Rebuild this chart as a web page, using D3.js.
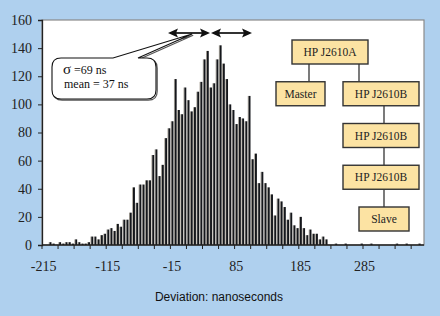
<!DOCTYPE html>
<html>
<head>
<meta charset="utf-8">
<script src="https://cdn.jsdelivr.net/npm/d3@7"></script>
<style>
  html, body { margin: 0; padding: 0; background: #afd0ee; }
  svg { display: block; }
</style>
</head>
<body>
<div id="chart"></div>
<script>
// deviation bins (ns), 5 ns wide, starting at -215
const binStart = -215;
const binStep = 5;
const counts = [
  0, 0, 2, 1, 0, 2, 1, 2, 2, 1,
  4, 2, 1, 1, 2, 6, 6, 4, 7, 8,
  11, 12, 10, 15, 13, 18, 18, 23, 41, 30,
  43, 43, 46, 46, 64, 68, 49, 57, 76, 83,
  88, 118, 96, 93, 112, 103, 95, 98, 109, 116,
  132, 138, 112, 115, 132, 142, 129, 118, 100, 96,
  86, 91, 90, 88, 106, 61, 65, 44, 52, 44,
  41, 36, 21, 33, 31, 27, 18, 23, 14, 12,
  20, 12, 7, 11, 8, 8, 4, 6, 4, 0,
  0, 1, 0, 0, 1, 0, 0, 0, 0, 1,
  0, 0, 1, 0, 0, 0, 0, 0, 0, 0,
  1, 0, 0, 1, 0, 0, 0, 1, 0
];
const categories = counts.map((_, i) => binStart + i * binStep);
const xTickLabels = ['-215', '-115', '-15', '85', '185', '285'];
const yTicks = [0, 20, 40, 60, 80, 100, 120, 140, 160];
const statLines = ['=69 ns', 'mean = 37 ns'];

// org chart of the test setup
const orgNodes = [
  { id: 'a', label: 'HP J2610A', col: 1, row: 0 },
  { id: 'm', label: 'Master', col: 0, row: 1 },
  { id: 'b1', label: 'HP J2610B', col: 2, row: 1 },
  { id: 'b2', label: 'HP J2610B', col: 2, row: 2 },
  { id: 'b3', label: 'HP J2610B', col: 2, row: 3 },
  { id: 's', label: 'Slave', col: 3, row: 4 }
];
const orgLinks = [['a', 'm'], ['a', 'b1'], ['b1', 'b2'], ['b2', 'b3'], ['b3', 's']];

const W = 440, H = 316;
const plot = { left: 42, right: 424, top: 20, bottom: 245 };

const svg = d3.select('#chart').append('svg')
  .attr('width', W).attr('height', H);

svg.append('rect').attr('width', W).attr('height', H).attr('fill', '#afd0ee');

// plot area
svg.append('rect')
  .attr('x', plot.left).attr('y', plot.top)
  .attr('width', plot.right - plot.left).attr('height', plot.bottom - plot.top)
  .attr('fill', '#fff')
  .attr('stroke', '#8a8a8a').attr('stroke-width', 1.2);

const x = d3.scaleBand().domain(categories).range([plot.left, plot.right]).padding(0);
const y = d3.scaleLinear().domain([0, 160]).range([plot.bottom, plot.top]);
const bw = x.bandwidth();
const filled = categories.filter((c, i) => counts[i] > 0);
const cnt = d => counts[categories.indexOf(d)];

// bars: light sliver + dark body
const bars = svg.append('g');
bars.selectAll('rect.lite')
  .data(filled)
  .enter().append('rect')
  .attr('class', 'lite')
  .attr('x', d => x(d) + bw * 0.1)
  .attr('y', d => y(cnt(d)))
  .attr('width', bw * 0.25)
  .attr('height', d => plot.bottom - y(cnt(d)))
  .attr('fill', '#a49e92');
bars.selectAll('rect.dark')
  .data(filled)
  .enter().append('rect')
  .attr('class', 'dark')
  .attr('x', d => x(d) + bw * 0.35)
  .attr('y', d => y(cnt(d)))
  .attr('width', bw * 0.6)
  .attr('height', d => plot.bottom - y(cnt(d)))
  .attr('fill', '#15171b');

// y axis
const yAxis = svg.append('g')
  .attr('transform', `translate(${plot.left},0)`)
  .call(d3.axisLeft(y).tickValues(yTicks).tickSize(4).tickPadding(6));
yAxis.select('.domain').attr('stroke', '#222').attr('stroke-width', 1.3);
yAxis.selectAll('.tick line').attr('stroke', '#222');
yAxis.selectAll('.tick text')
  .attr('font-family', '"Liberation Serif", "DejaVu Serif", serif')
  .attr('font-size', 14).attr('fill', '#222');

// x axis: ticks every 5 bins on band boundaries, labels every 20 bins
const xg = svg.append('g');
xg.append('line')
  .attr('x1', plot.left).attr('x2', plot.right)
  .attr('y1', plot.bottom).attr('y2', plot.bottom)
  .attr('stroke', '#222').attr('stroke-width', 1.3);
xg.selectAll('line.tick')
  .data(categories.filter((c, i) => i % 5 === 0))
  .enter().append('line')
  .attr('x1', d => x(d)).attr('x2', d => x(d))
  .attr('y1', plot.bottom).attr('y2', plot.bottom + 4)
  .attr('stroke', '#222');
xg.selectAll('text')
  .data(xTickLabels)
  .enter().append('text')
  .attr('x', d => x(+d) + bw / 2)
  .attr('y', 271)
  .attr('text-anchor', 'middle')
  .attr('font-family', '"Liberation Serif", "DejaVu Serif", serif')
  .attr('font-size', 14).attr('fill', '#222')
  .text(d => d);

svg.append('text')
  .attr('x', 219).attr('y', 301)
  .attr('text-anchor', 'middle')
  .attr('font-family', '"Liberation Sans", Arial, sans-serif')
  .attr('font-size', 12).attr('fill', '#111')
  .text('Deviation: nanoseconds');

// double arrows marking ±sigma around the peak
const arrowY = 33;
const arrows = [[168, 210], [211, 252]];
const ag = svg.append('g');
arrows.forEach(([a, b]) => {
  ag.append('line')
    .attr('x1', a + 6).attr('x2', b - 6).attr('y1', arrowY).attr('y2', arrowY)
    .attr('stroke', '#333').attr('stroke-width', 2);
  ag.append('path')
    .attr('d', `M${a},${arrowY} L${a + 10},${arrowY - 4.5} L${a + 8},${arrowY} L${a + 10},${arrowY + 4.5} Z`)
    .attr('fill', '#111');
  ag.append('path')
    .attr('d', `M${b},${arrowY} L${b - 10},${arrowY - 4.5} L${b - 8},${arrowY} L${b - 10},${arrowY + 4.5} Z`)
    .attr('fill', '#111');
});

// callout box
const cb = { x: 52, y: 58, w: 104, h: 41, r: 9 };
const callout = d3.path();
callout.moveTo(cb.x + cb.r, cb.y);
callout.lineTo(113, cb.y);
callout.lineTo(192, 34);
callout.lineTo(138, cb.y);
callout.lineTo(cb.x + cb.w - cb.r, cb.y);
callout.quadraticCurveTo(cb.x + cb.w, cb.y, cb.x + cb.w, cb.y + cb.r);
callout.lineTo(cb.x + cb.w, cb.y + cb.h - cb.r);
callout.quadraticCurveTo(cb.x + cb.w, cb.y + cb.h, cb.x + cb.w - cb.r, cb.y + cb.h);
callout.lineTo(cb.x + cb.r, cb.y + cb.h);
callout.quadraticCurveTo(cb.x, cb.y + cb.h, cb.x, cb.y + cb.h - cb.r);
callout.lineTo(cb.x, cb.y + cb.r);
callout.quadraticCurveTo(cb.x, cb.y, cb.x + cb.r, cb.y);
callout.closePath();
svg.append('path').attr('d', callout.toString())
  .attr('transform', 'translate(1.2,1.2)')
  .attr('fill', 'none').attr('stroke', '#555').attr('stroke-width', 1.2);
svg.append('path').attr('d', callout.toString())
  .attr('fill', '#fff').attr('stroke', '#111').attr('stroke-width', 1.1);

const tg = svg.append('g')
  .attr('font-family', '"Liberation Serif", "DejaVu Serif", serif')
  .attr('fill', '#111');
const t1 = tg.append('text').attr('x', 63).attr('y', 74).attr('font-size', 12);
t1.append('tspan').attr('font-size', 15).text('σ');
t1.append('tspan').attr('dx', 3).text(statLines[0]);
tg.append('text').attr('x', 64).attr('y', 88).attr('font-size', 12).text(statLines[1]);

// org chart
const colX = [276, 292, 343, 359];
const colW = [49, 76, 76, 50];
const rowY = d3.scaleLinear().domain([0, 4]).range([40, 207]);
const boxH = 24;
const nodeById = {};
orgNodes.forEach(n => {
  nodeById[n.id] = { ...n, x: colX[n.col], w: colW[n.col], y: rowY(n.row) };
});
const og = svg.append('g');
orgLinks.forEach(([p, c]) => {
  const a = nodeById[p], b = nodeById[c];
  const lx = p === 'a' ? (c === 'm' ? 309 : 359) : 384;
  og.append('line')
    .attr('x1', lx).attr('x2', lx)
    .attr('y1', a.y + boxH).attr('y2', b.y)
    .attr('stroke', '#222').attr('stroke-width', 1.2);
});
Object.values(nodeById).forEach(n => {
  og.append('rect')
    .attr('x', n.x).attr('y', n.y).attr('width', n.w).attr('height', boxH)
    .attr('fill', '#fce3a3').attr('stroke', '#333').attr('stroke-width', 1.4);
  og.append('text')
    .attr('x', n.x + n.w / 2).attr('y', n.y + boxH / 2 + 4)
    .attr('text-anchor', 'middle')
    .attr('font-family', '"Liberation Serif", "DejaVu Serif", serif')
    .attr('font-size', 11.5).attr('fill', '#222')
    .text(n.label);
});
</script>
</body>
</html>
